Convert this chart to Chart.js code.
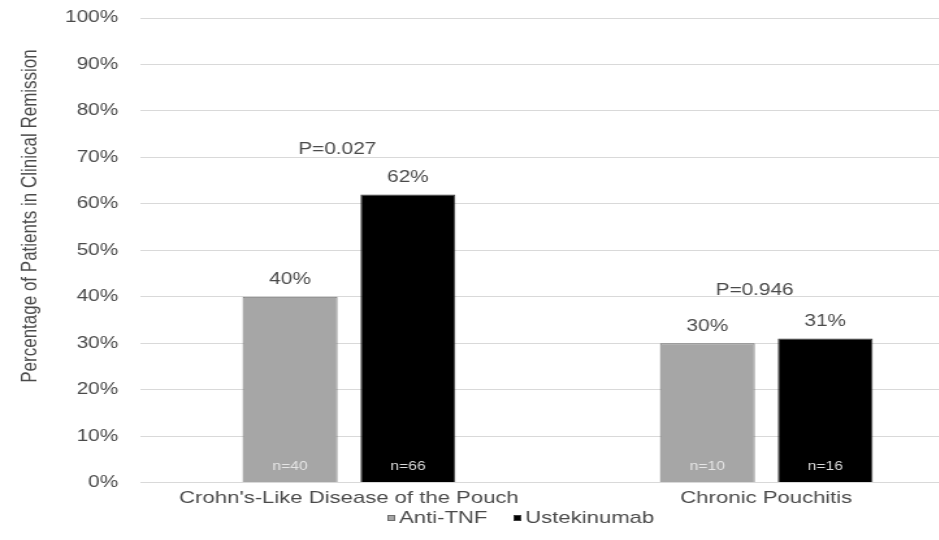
<!DOCTYPE html>
<html>
<head>
<meta charset="utf-8">
<script src="https://cdn.jsdelivr.net/npm/chart.js@4"></script>
<style>
  html, body { margin: 0; padding: 0; background: #fff; overflow: hidden; }
  #wrap { width: 939px; height: 540px; overflow: hidden; }
</style>
</head>
<body>
<!-- the reference is stretched sideways, so the canvas is drawn narrow and widened by its style -->
<div id="wrap"><canvas id="chart" width="750" height="540" style="width:975px;height:540px"></canvas></div>
<script>
const categories = ["Crohn's-Like Disease of the Pouch", 'Chronic Pouchitis'];
const antiTnf = [40, 30];
const ustekinumab = [62, 31];
const antiTnfN = ['n=40', 'n=10'];
const ustekinumabN = ['n=66', 'n=16'];
const pValues = ['P=0.027', 'P=0.946'];
const pValueLevels = [71.6, 41.4];
const yTitle = 'Percentage of Patients in Clinical Remission';

const fontFamily = '"Liberation Sans", Arial, sans-serif';
const textColor = '#4a4a4a';

const labelPlugin = {
    id: 'labels',
    afterDatasetsDraw(chart) {
        const ctx = chart.ctx;
        const x = chart.scales.x;
        const y = chart.scales.y;
        ctx.save();
        ctx.textAlign = 'center';
        ctx.textBaseline = 'middle';

        chart.data.datasets.forEach((ds, d) => {
            const meta = chart.getDatasetMeta(d);
            meta.data.forEach((bar, i) => {
                ctx.font = '16px ' + fontFamily;
                ctx.fillStyle = textColor;
                ctx.fillText(ds.data[i] + '%', bar.x, bar.y - 17);
                ctx.font = '12px ' + fontFamily;
                ctx.fillStyle = d === 0 ? '#e6e6e6' : '#d9d9d9';
                ctx.fillText(ds.counts[i], bar.x, bar.base - 15);
            });
        });

        ctx.font = '16px ' + fontFamily;
        ctx.fillStyle = textColor;
        pValues.forEach((p, i) => {
            ctx.fillText(p, x.getPixelForValue(i) - 9, y.getPixelForValue(pValueLevels[i]));
        });

        // y axis title
        ctx.save();
        ctx.translate(23, 216);
        ctx.rotate(-Math.PI / 2);
        ctx.font = '17px ' + fontFamily;
        ctx.fillStyle = textColor;
        ctx.fillText(yTitle, 0, 0);
        ctx.restore();

        // legend
        let lx = 298;
        const ly = 518;
        ctx.font = '17px ' + fontFamily;
        ctx.textAlign = 'left';
        chart.data.datasets.forEach(ds => {
            ctx.fillStyle = ds.backgroundColor;
            ctx.strokeStyle = ds.borderColor;
            ctx.lineWidth = 1;
            ctx.fillRect(lx, ly - 3, 6, 6);
            ctx.strokeRect(lx + 0.5, ly - 2.5, 5, 5);
            ctx.fillStyle = textColor;
            ctx.fillText(ds.label, lx + 9, ly);
            lx += 9 + ctx.measureText(ds.label).width + 20;
        });
        ctx.restore();
    }
};

new Chart(document.getElementById('chart'), {
    type: 'bar',
    data: {
        labels: categories,
        datasets: [
            {
                label: 'Anti-TNF',
                data: antiTnf,
                counts: antiTnfN,
                backgroundColor: '#a6a6a6',
                borderColor: '#6e6e6e',
                borderWidth: 1
            },
            {
                label: 'Ustekinumab',
                data: ustekinumab,
                counts: ustekinumabN,
                backgroundColor: '#000000',
                borderColor: '#3a3a3a',
                borderWidth: 1
            }
        ]
    },
    options: {
        responsive: false,
        animation: false,
        devicePixelRatio: 1,
        categoryPercentage: 0.565,
        barPercentage: 0.805,
        layout: {
            padding: { left: 48, right: 0, top: 18, bottom: 25 }
        },
        plugins: {
            legend: { display: false },
            tooltip: { enabled: false }
        },
        scales: {
            x: {
                grid: { display: false, drawTicks: false },
                border: { display: false },
                ticks: {
                    color: textColor,
                    padding: 6,
                    font: { family: fontFamily, size: 17 }
                }
            },
            y: {
                min: 0,
                max: 100,
                // invisible tick marks keep the labels away from the grid
                grid: { color: '#d9d9d9', tickLength: 15, tickColor: 'rgba(0,0,0,0)' },
                border: { display: false },
                ticks: {
                    stepSize: 10,
                    padding: 2,
                    color: textColor,
                    font: { family: fontFamily, size: 16 },
                    callback: v => v + '%'
                }
            }
        }
    },
    plugins: [labelPlugin]
});
</script>
</body>
</html>
